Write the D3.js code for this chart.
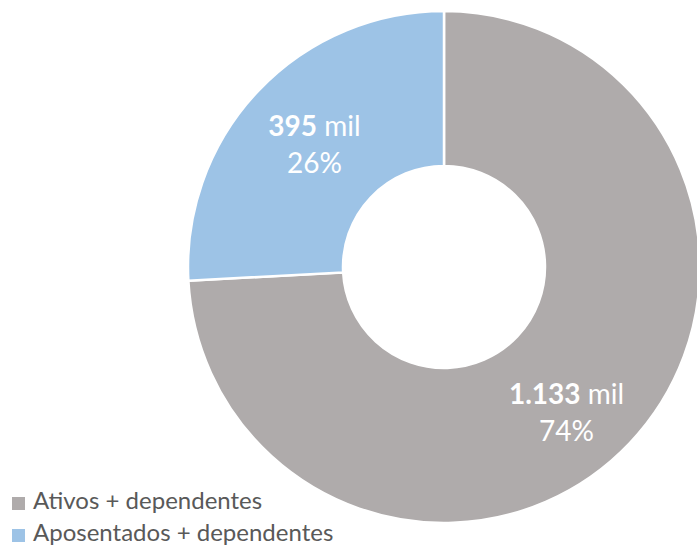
<!DOCTYPE html>
<html>
<head>
<meta charset="utf-8">
<script src="https://cdn.jsdelivr.net/npm/d3@7"></script>
<style>
  html, body { margin: 0; padding: 0; background: #fff; }
  svg { display: block; }
</style>
</head>
<body>
<svg id="chart" width="697" height="546"></svg>
<script>
const categories = ["Ativos + dependentes", "Aposentados + dependentes"];
const values = [1133, 395];
const valueLabels = ["1.133", "395"];
const unitLabel = "mil";
const colors = ["#AFABAB", "#9DC3E6"];

const W = 697, H = 546;
const cx = 444, cy = 267;
const outerR = 256, innerR = 101;

const svg = d3.select("#chart");
const total = d3.sum(values);

const pie = d3.pie().sort(null).value(d => d.value);
const arcs = pie(categories.map((c, i) => ({ cat: c, value: values[i], label: valueLabels[i], color: colors[i] })));

const arc = d3.arc().innerRadius(innerR).outerRadius(outerR);

const g = svg.append("g").attr("transform", `translate(${cx},${cy})`);

g.selectAll("path.slice")
  .data(arcs)
  .join("path")
  .attr("class", "slice")
  .attr("d", arc)
  .attr("fill", d => d.data.color)
  .attr("stroke", "#fff")
  .attr("stroke-width", 2.5)
  .attr("stroke-linejoin", "miter");

// label nudges (Excel-like placement)
const nudge = [[-7, 23], [0, 1]];
const labelFont = "Lato, 'Open Sans', sans-serif";

const lab = g.selectAll("g.lab")
  .data(arcs)
  .join("g")
  .attr("class", "lab")
  .attr("transform", (d, i) => {
    const c = arc.centroid(d);
    return `translate(${c[0] + nudge[i][0]},${c[1] + nudge[i][1]})`;
  });

const t1 = lab.append("text")
  .attr("text-anchor", "middle")
  .attr("y", -9)
  .attr("fill", "#fff")
  .style("font-family", labelFont)
  .style("font-size", "28px");
t1.append("tspan").attr("font-weight", "bold").text(d => d.data.label);
t1.append("tspan").text(" " + unitLabel);

lab.append("text")
  .attr("text-anchor", "middle")
  .attr("y", 28)
  .attr("fill", "#fff")
  .style("font-family", labelFont)
  .style("font-size", "28px")
  .text(d => Math.round(d.data.value / total * 100) + "%");

// legend
const legend = svg.append("g").attr("transform", "translate(12,497)");
const item = legend.selectAll("g.item")
  .data(categories)
  .join("g")
  .attr("class", "item")
  .attr("transform", (d, i) => `translate(0,${i * 32})`);
item.append("rect")
  .attr("x", 0).attr("y", 0)
  .attr("width", 13).attr("height", 13)
  .attr("fill", (d, i) => colors[i]);
item.append("text")
  .attr("x", 21).attr("y", 12)
  .attr("fill", "#595959")
  .style("font-family", labelFont)
  .style("font-size", "24px")
  .text(d => d);
</script>
</body>
</html>
